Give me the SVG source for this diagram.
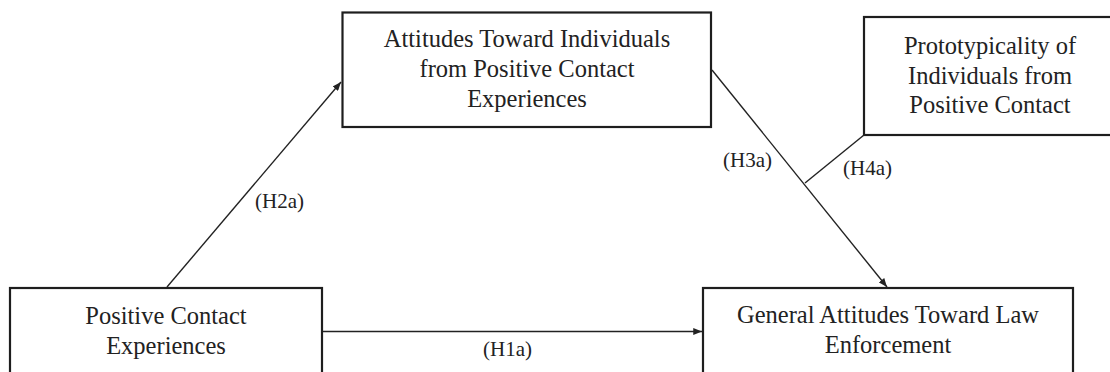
<svg xmlns="http://www.w3.org/2000/svg" width="1110" height="372" viewBox="0 0 1110 372">
  <style>
    .box { fill: #ffffff; stroke: #1e1e1e; stroke-width: 2.2; }
    .node-text { font-family: "Liberation Serif", "Times New Roman", serif; font-size: 24.5px; fill: #222222; text-anchor: middle; }
    .label { font-family: "Liberation Serif", "Times New Roman", serif; font-size: 21px; fill: #222222; text-anchor: start; }
    .edge { fill: none; stroke: #222222; stroke-width: 1.4; }
  </style>
  <defs>
    <marker id="arrow" viewBox="0 0 10 8" markerWidth="9" markerHeight="7" refX="10" refY="4" orient="auto" markerUnits="userSpaceOnUse">
      <path d="M0,0 L10,4 L0,8 z" fill="#222222"/>
    </marker>
  </defs>
  <rect width="1110" height="372" fill="#ffffff"/>

  <g id="connectors">
    <line class="edge" x1="167" y1="287" x2="341" y2="82" marker-end="url(#arrow)"/>
    <line class="edge" x1="712" y1="70" x2="887" y2="287" marker-end="url(#arrow)"/>
    <line class="edge" x1="864" y1="135" x2="805" y2="183"/>
    <line class="edge" x1="322" y1="331.5" x2="702" y2="331.5" marker-end="url(#arrow)"/>
    <text class="label" x="255" y="208">(H2a)</text>
    <text class="label" x="723" y="167">(H3a)</text>
    <text class="label" x="843" y="175">(H4a)</text>
    <text class="label" x="483" y="356">(H1a)</text>
  </g>

  <g id="node-positive-contact">
    <rect class="box" x="10" y="288" width="312" height="110"/>
    <text class="node-text" x="166" y="324">Positive Contact</text>
    <text class="node-text" x="166" y="354">Experiences</text>
  </g>

  <g id="node-attitudes-individuals">
    <rect class="box" x="342.5" y="12.5" width="368.5" height="114.5"/>
    <text class="node-text" x="527" y="47">Attitudes Toward Individuals</text>
    <text class="node-text" x="527" y="77">from Positive Contact</text>
    <text class="node-text" x="527" y="107">Experiences</text>
  </g>

  <g id="node-prototypicality">
    <rect class="box" x="864" y="17" width="260" height="118"/>
    <text class="node-text" x="990" y="54">Prototypicality of</text>
    <text class="node-text" x="990" y="84">Individuals from</text>
    <text class="node-text" x="990" y="113">Positive Contact</text>
  </g>

  <g id="node-general-attitudes">
    <rect class="box" x="703" y="288" width="370" height="110"/>
    <text class="node-text" x="888" y="323">General Attitudes Toward Law</text>
    <text class="node-text" x="888" y="353">Enforcement</text>
  </g>
</svg>
